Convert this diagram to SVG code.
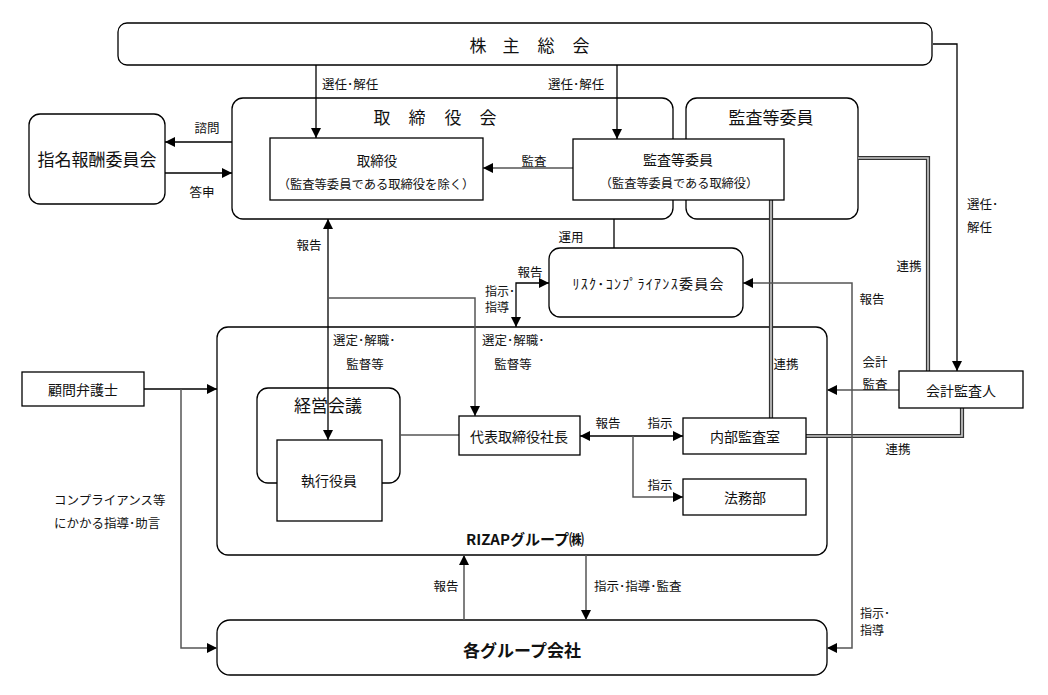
<svg xmlns="http://www.w3.org/2000/svg" width="1048" height="695" viewBox="0 0 1048 695">
<style>
text{font-family:"Noto Sans CJK JP","Noto Sans",sans-serif;fill:#111;dominant-baseline:central}
.lb{font-size:12.5px}
.lbs{font-size:12.5px;text-anchor:start}
.sm{font-size:12px;text-anchor:start}
.m{text-anchor:middle}
.t14{font-size:14px}
.t17{font-size:17px}
.box{fill:#fff;stroke:#000;stroke-width:1.3}
.cont{fill:none;stroke:#000;stroke-width:1.3}
.ln{fill:none;stroke:#000;stroke-width:1.3}
.gl{fill:none;stroke:#555;stroke-width:1.5}
.dbo{fill:none;stroke:#333;stroke-width:4.2}
.dbi{fill:none;stroke:#ccc;stroke-width:1.6}
</style>
<defs>
<marker id="ar" viewBox="0 0 10 10" refX="10" refY="5" markerWidth="14" markerHeight="10" markerUnits="userSpaceOnUse" orient="auto-start-reverse">
<path d="M0,0 L10,5 L0,10 z" fill="#000"/>
</marker>
</defs>
<rect width="1048" height="695" fill="#fff"/>

<g id="shareholders">
<rect class="cont" x="118" y="23" width="814" height="42" rx="9"/>
<text class="t17 m" x="478 511 546 581" y="44">株主総会</text>
</g>
<g id="board">
<rect class="cont" x="232" y="98" width="441" height="121" rx="11"/>
<text class="t17 m" x="382 417 453 488" y="116">取締役会</text>
</g>
<g id="audit-committee">
<rect class="box" x="686" y="98" width="172" height="121" rx="11"/>
<text class="t17 m" x="771" y="116">監査等委員</text>
</g>
<g id="rizap">
<rect class="cont" x="217" y="327" width="610" height="228" rx="11"/>
<text class="m" x="525" y="538" style="font-size:15px;font-weight:bold">RIZAPグループ㈱</text>
</g>
<g id="management-meeting">
<rect class="cont" x="257" y="388" width="143" height="95" rx="11"/>
<text class="t17 m" x="328" y="404">経営会議</text>
</g>
<g id="group-companies">
<rect class="cont" x="217" y="620" width="610" height="55" rx="13"/>
<text class="m" x="522" y="649" style="font-size:17px;font-weight:bold">各グループ会社</text>
</g>

<g id="connectors">
<path class="ln" d="M316,65 V138" marker-end="url(#ar)"/>
<path class="ln" d="M617,65 V139" marker-end="url(#ar)"/>
<path class="ln" d="M933,44 H957 V371" marker-end="url(#ar)"/>
<path class="ln" d="M232,142 H165" marker-end="url(#ar)"/>
<path class="ln" d="M165,173 H232" marker-end="url(#ar)"/>
<path class="gl" d="M573,168 H483" marker-end="url(#ar)"/>
<path class="dbo" d="M858,158 H928 V371"/>
<path class="dbi" d="M858,158 H928 V371"/>
<path class="dbo" d="M771,200 V418"/>
<path class="dbi" d="M771,200 V418"/>
<path class="dbo" d="M806,436 H962 V408"/>
<path class="dbi" d="M806,436 H962 V408"/>
<path class="ln" d="M328,219 V440" marker-start="url(#ar)" marker-end="url(#ar)"/>
<path class="gl" d="M328,298 H475 V416" marker-end="url(#ar)"/>
<path class="ln" d="M614,219 V248"/>
<path class="ln" d="M516,327 V283 H549" marker-start="url(#ar)" marker-end="url(#ar)"/>
<path class="gl" d="M743,283 H852 V648 H827" marker-start="url(#ar)" marker-end="url(#ar)"/>
<path class="gl" d="M899,390 H827" marker-end="url(#ar)"/>
<path class="ln" d="M580,436 H683" marker-start="url(#ar)" marker-end="url(#ar)"/>
<path class="gl" d="M633,436 V497 H683" marker-end="url(#ar)"/>
<path class="gl" d="M400,435 H459"/>
<path class="ln" d="M144,389 H217" marker-end="url(#ar)"/>
<path class="gl" d="M181,389 V648 H217" marker-end="url(#ar)"/>
<path class="gl" d="M464,620 V555" marker-end="url(#ar)"/>
<path class="gl" d="M586,555 V620" marker-end="url(#ar)"/>

<text class="lbs" x="322" y="83">選任･解任</text>
<text class="lbs" x="548" y="83">選任･解任</text>
<text class="lbs" x="967" y="203">選任･</text>
<text class="lbs" x="967" y="226">解任</text>
<text class="lb m" x="207" y="127">諮問</text>
<text class="lb m" x="202" y="191">答申</text>
<text class="lb m" x="534" y="160">監査</text>
<text class="lb m" x="309" y="244">報告</text>
<text class="lb m" x="571" y="236">運用</text>
<text class="lb m" x="530" y="271">報告</text>
<text class="sm" x="485" y="290">指示･</text>
<text class="sm" x="485" y="306">指導</text>
<text class="lbs" x="333" y="339">選定･解職･</text>
<text class="lb m" x="365" y="363">監督等</text>
<text class="lbs" x="482" y="339">選定･解職･</text>
<text class="lb m" x="513" y="363">監督等</text>
<text class="lb m" x="786" y="363">連携</text>
<text class="lb m" x="909" y="265">連携</text>
<text class="lb m" x="872" y="298">報告</text>
<text class="lb m" x="875" y="361">会計</text>
<text class="lb m" x="875" y="383">監査</text>
<text class="lb m" x="898" y="448">連携</text>
<text class="lb m" x="608" y="422">報告</text>
<text class="lb m" x="660" y="422">指示</text>
<text class="lb m" x="660" y="484">指示</text>
<text class="lbs" x="54" y="499">コンプライアンス等</text>
<text class="lbs" x="54" y="522">にかかる指導･助言</text>
<text class="lb m" x="446" y="585">報告</text>
<text class="lbs" x="594" y="585">指示･指導･監査</text>
<text class="sm" x="860" y="612">指示･</text>
<text class="sm" x="860" y="629">指導</text>
</g>

<g id="nomination-committee">
<rect class="box" x="29" y="114" width="136" height="90" rx="11"/>
<text class="t17 m" x="97" y="158">指名報酬委員会</text>
</g>
<g id="directors">
<rect class="box" x="270" y="138" width="213" height="62"/>
<text class="m" x="377" y="160" style="font-size:13.5px">取締役</text>
<text class="m" x="376" y="184" style="font-size:12.3px">（監査等委員である取締役を除く）</text>
</g>
<g id="audit-members">
<rect class="box" x="573" y="139" width="211" height="61"/>
<text class="t14 m" x="678" y="159">監査等委員</text>
<text class="m" x="679" y="183" style="font-size:12.2px">（監査等委員である取締役）</text>
</g>
<g id="risk-committee">
<rect class="box" x="549" y="248" width="194" height="69" rx="11"/>
<text class="t14 m" x="648" y="283" textLength="151" lengthAdjust="spacing">ﾘｽｸ･ｺﾝﾌﾟﾗｲｱﾝｽ委員会</text>
</g>
<g id="auditor">
<rect class="box" x="899" y="371" width="124" height="37"/>
<text class="t14 m" x="961" y="390">会計監査人</text>
</g>
<g id="legal-advisor">
<rect class="box" x="22" y="372" width="122" height="34"/>
<text class="t14 m" x="83" y="389">顧問弁護士</text>
</g>
<g id="executive-officers">
<rect class="box" x="277" y="440" width="105" height="81"/>
<text class="t14 m" x="329" y="480">執行役員</text>
</g>
<g id="president">
<rect class="box" x="459" y="416" width="121" height="39"/>
<text class="t14 m" x="519" y="436">代表取締役社長</text>
</g>
<g id="internal-audit">
<rect class="box" x="683" y="418" width="123" height="36"/>
<text class="t14 m" x="745" y="436">内部監査室</text>
</g>
<g id="legal-dept">
<rect class="box" x="683" y="479" width="123" height="36"/>
<text class="t14 m" x="745" y="497">法務部</text>
</g>
</svg>
